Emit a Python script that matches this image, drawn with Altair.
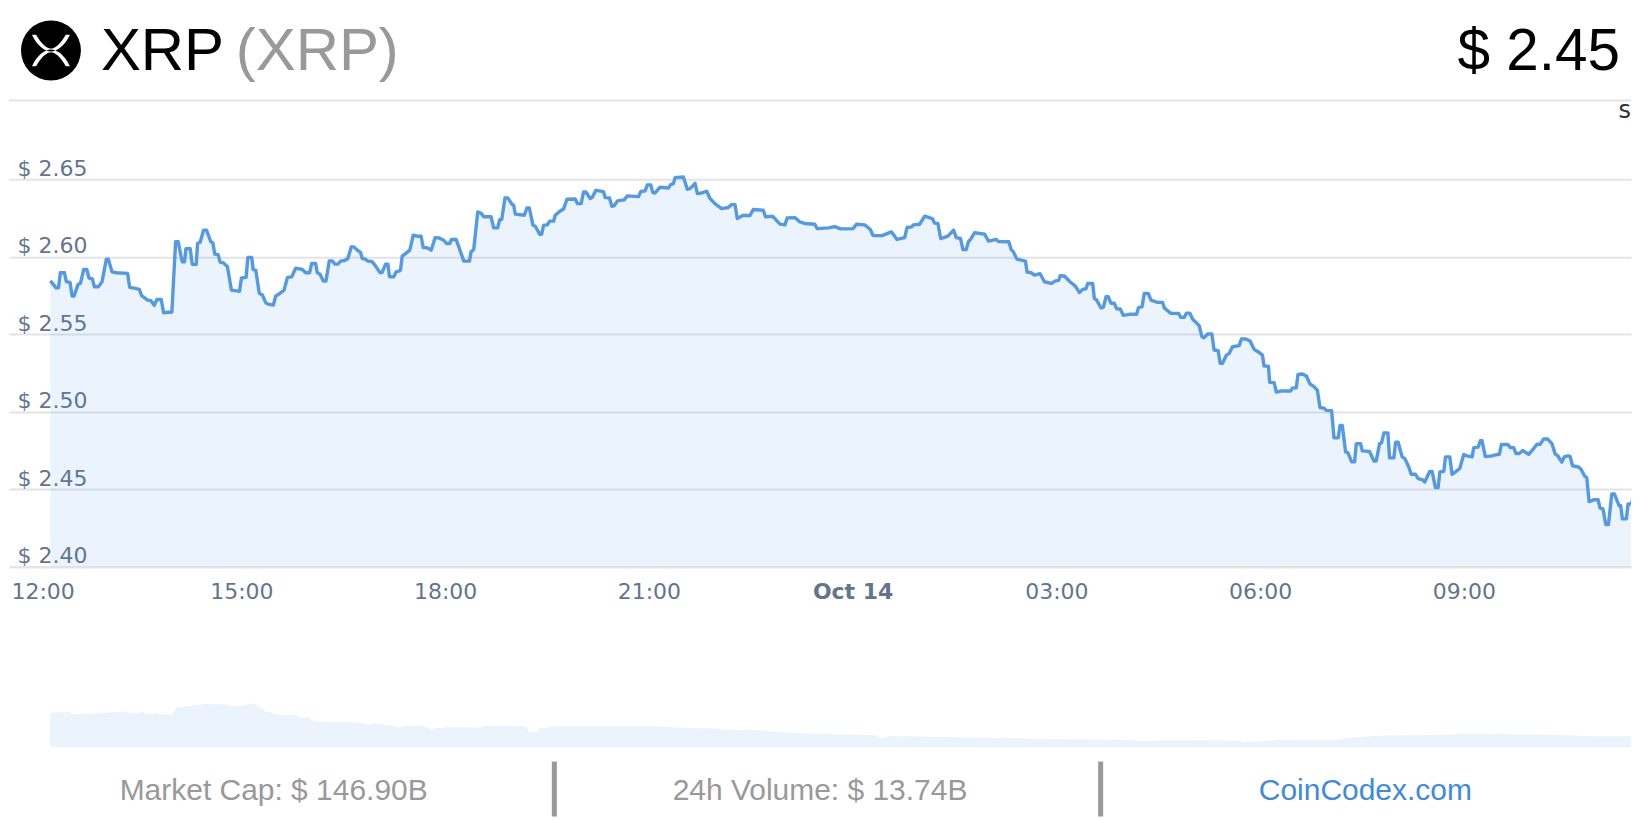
import altair as alt
import pandas as pd

# minutes after 12:00 on Oct 13
price_minutes = [
    12.6, 17.6, 19.7, 21.4, 25.0, 26.7, 30.0, 31.7, 33.5, 37.0, 39.1, 42.0, 44.7, 46.7, 49.7, 51.4, 55.0, 58.2, 62.0, 63.8,
    67.0, 70.5, 80.8, 82.6, 86.7, 91.1, 93.2, 98.5, 101.4, 104.3, 106.7, 110.5, 112.6, 119.9, 123.2, 125.5, 129.0, 131.1, 132.3, 136.1,
    137.9, 141.4, 142.6, 144.9, 147.9, 150.5, 154.3, 156.1, 157.8, 160.8, 162.6, 165.5, 169.0, 172.5, 179.6, 181.4, 185.5, 187.0, 190.5, 191.7,
    194.0, 197.2, 199.9, 202.8, 205.8, 209.6, 211.6, 214.6, 219.0, 222.0, 225.8, 229.3, 235.2, 238.1, 241.6, 243.4, 246.9, 248.4, 250.8, 253.7,
    256.0, 259.0, 261.6, 264.0, 266.6, 269.0, 272.5, 275.4, 278.4, 280.7, 283.7, 286.6, 288.1, 291.0, 292.5, 296.9, 299.9, 303.7, 305.7, 308.7,
    310.7, 312.2, 316.0, 318.1, 320.4, 321.9, 323.4, 326.3, 330.1, 333.1, 336.6, 340.1, 341.9, 345.4, 349.0, 352.5, 355.7, 360.1, 362.5, 365.4,
    366.9, 371.0, 373.4, 377.8, 382.8, 384.2, 386.6, 390.1, 393.3, 395.4, 401.9, 404.2, 407.7, 409.5, 411.3, 414.2, 416.6, 420.4, 421.9, 423.3,
    431.3, 433.6, 435.7, 438.9, 441.0, 444.8, 446.6, 448.3, 451.6, 453.6, 457.1, 458.6, 463.0, 466.0, 468.9, 476.3, 478.3, 481.5, 483.6, 485.7,
    489.5, 491.5, 494.5, 501.2, 502.7, 506.5, 508.6, 510.6, 513.6, 519.5, 522.4, 532.1, 534.2, 538.0, 540.0, 543.0, 544.8, 546.8, 551.2, 558.6,
    560.6, 563.0, 564.5, 571.8, 575.3, 577.7, 582.1, 584.2, 588.0, 592.4, 595.3, 599.7, 605.6, 611.5, 614.4, 617.4, 619.4, 624.7, 630.6, 633.5,
    642.4, 644.4, 650.6, 657.1, 661.5, 663.5, 670.3, 674.7, 679.1, 687.9, 690.0, 700.0, 705.6, 710.6, 721.7, 724.7, 732.0, 737.0, 739.4, 747.3,
    755.6, 760.5, 767.3, 769.4, 773.2, 775.2, 780.5, 785.0, 791.7, 793.8, 796.7, 799.1, 805.5, 810.5, 812.9, 816.7, 818.8, 821.7, 823.8, 825.5,
    829.0, 837.9, 841.4, 848.2, 850.2, 859.3, 861.4, 863.4, 866.4, 874.0, 875.5, 879.0, 882.0, 887.0, 890.8, 896.7, 900.5, 903.4, 904.6, 908.4,
    913.4, 918.1, 921.7, 924.6, 927.5, 929.0, 933.4, 934.9, 936.9, 940.8, 942.8, 945.2, 947.2, 949.6, 952.5, 954.6, 957.8, 960.5, 965.8, 972.2,
    974.0, 977.0, 979.0, 982.5, 984.9, 990.8, 995.2, 996.7, 1002.5, 1009.3, 1011.3, 1014.3, 1016.3, 1019.3, 1021.6, 1027.5, 1029.9, 1031.9, 1034.9, 1038.7,
    1040.7, 1044.3, 1046.0, 1048.1, 1051.6, 1054.0, 1056.9, 1062.8, 1064.8, 1068.7, 1072.5, 1076.0, 1079.5, 1083.4, 1084.8, 1088.7, 1089.8, 1093.7, 1095.7, 1099.5,
    1108.4, 1109.8, 1113.3, 1114.8, 1118.6, 1122.2, 1125.4, 1128.3, 1131.9, 1134.2, 1137.8, 1139.8, 1144.5, 1146.6, 1150.4, 1151.9, 1153.9, 1156.9, 1158.9, 1162.2,
    1164.8, 1166.3, 1170.1, 1171.6, 1178.0, 1181.9, 1183.9, 1186.9, 1188.6, 1190.7, 1194.2, 1195.7, 1199.5, 1201.0, 1203.3, 1206.8, 1209.2, 1212.7, 1214.8, 1218.6,
    1221.0, 1224.5, 1226.8, 1231.2, 1233.3, 1236.2, 1238.6, 1240.1, 1243.6, 1245.1, 1248.9, 1250.9, 1253.9, 1257.7, 1261.2, 1264.2, 1268.6, 1270.1, 1273.9, 1275.9,
    1277.4, 1280.3, 1286.2, 1289.2, 1292.7, 1294.5, 1300.3, 1302.4, 1305.3, 1307.4, 1310.3, 1313.3, 1318.6, 1323.0, 1325.9, 1328.9, 1331.8, 1335.3, 1339.1, 1342.1,
    1344.1, 1347.9, 1350.0, 1353.3, 1355.2, 1357.3, 1362.6, 1364.7, 1368.2, 1369.9, 1372.0, 1376.4, 1379.9, 1381.7, 1384.3, 1386.7, 1389.1, 1392.0, 1394.3, 1398.5,
    1399.9, 1401.4, 1404.9, 1406.4, 1409.6, 1411.7, 1414.6, 1416.2,
]
prices = [
    2.5845, 2.580, 2.580, 2.5897, 2.5897, 2.5839, 2.5835, 2.5747, 2.5747, 2.5822, 2.5828, 2.5918, 2.5918, 2.5863, 2.5858, 2.5807, 2.5807, 2.5839, 2.5985, 2.5985,
    2.5903, 2.5897, 2.5893, 2.5803, 2.5798, 2.579, 2.5749, 2.5721, 2.5717, 2.5687, 2.5725, 2.5725, 2.5639, 2.5644, 2.6097, 2.6097, 2.5968, 2.5968, 2.6052, 2.6052,
    2.5951, 2.5951, 2.6086, 2.6094, 2.6172, 2.6172, 2.6097, 2.609, 2.6017, 2.6013, 2.5964, 2.5961, 2.5936, 2.5785, 2.5777, 2.5863, 2.5867, 2.5996, 2.5996, 2.5918,
    2.5914, 2.5764, 2.5753, 2.5704, 2.5693, 2.5689, 2.5747, 2.576, 2.5785, 2.5867, 2.5871, 2.5927, 2.5918, 2.5897, 2.5897, 2.5957, 2.5957, 2.5897, 2.5888, 2.5843,
    2.5843, 2.5974, 2.5974, 2.5953, 2.5953, 2.5972, 2.5976, 2.5989, 2.6064, 2.6064, 2.6043, 2.6028, 2.5989, 2.5985, 2.5974, 2.5968, 2.594, 2.5899, 2.5899, 2.5953,
    2.5953, 2.5871, 2.5871, 2.5903, 2.5908, 2.5914, 2.6004, 2.6021, 2.6043, 2.6139, 2.6133, 2.6133, 2.606, 2.6058, 2.6043, 2.6124, 2.6122, 2.6107, 2.6086, 2.6086,
    2.6112, 2.6112, 2.6064, 2.5972, 2.5972, 2.6032, 2.6047, 2.629, 2.6279, 2.6258, 2.6258, 2.6187, 2.6187, 2.624, 2.624, 2.638, 2.638, 2.6339, 2.6333, 2.6275,
    2.6268, 2.6315, 2.6315, 2.6204, 2.6197, 2.6146, 2.6146, 2.6204, 2.6206, 2.623, 2.623, 2.6268, 2.6296, 2.6309, 2.6371, 2.6373, 2.6343, 2.6343, 2.6418, 2.6418,
    2.6376, 2.6386, 2.6429, 2.6421, 2.6382, 2.638, 2.6326, 2.633, 2.6361, 2.6367, 2.6393, 2.6388, 2.6421, 2.6425, 2.6464, 2.6464, 2.6414, 2.6412, 2.6449, 2.6444,
    2.6466, 2.6472, 2.6511, 2.6515, 2.6436, 2.644, 2.6474, 2.6408, 2.6412, 2.6423, 2.6376, 2.6343, 2.6311, 2.6318, 2.6337, 2.6337, 2.6247, 2.6268, 2.6266, 2.6305,
    2.63, 2.6258, 2.6262, 2.6211, 2.6206, 2.6251, 2.6253, 2.6225, 2.6215, 2.621, 2.6182, 2.6187, 2.6195, 2.618, 2.6182, 2.621, 2.6206, 2.6176, 2.6137, 2.6137,
    2.6161, 2.6112, 2.6124, 2.6189, 2.6193, 2.6206, 2.621, 2.6262, 2.6247, 2.6217, 2.6215, 2.6118, 2.6133, 2.6172, 2.6124, 2.6118, 2.6047, 2.6047, 2.6101, 2.6112,
    2.6155, 2.6146, 2.6101, 2.6112, 2.6099, 2.6097, 2.6047, 2.6032, 2.5985, 2.5972, 2.5901, 2.5897, 2.5882, 2.5891, 2.5839, 2.5828, 2.5845, 2.5848, 2.5878, 2.5876,
    2.5839, 2.5811, 2.577, 2.579, 2.5794, 2.5828, 2.5828, 2.573, 2.5721, 2.567, 2.5674, 2.5742, 2.5742, 2.57, 2.57, 2.5665, 2.5663, 2.5622, 2.5629, 2.5629,
    2.5674, 2.5678, 2.5764, 2.5764, 2.5721, 2.5706, 2.5706, 2.567, 2.5635, 2.5635, 2.5609, 2.5609, 2.5637, 2.5637, 2.5599, 2.5556, 2.5485, 2.5478, 2.5502, 2.5502,
    2.5399, 2.5394, 2.5313, 2.5313, 2.5366, 2.5377, 2.542, 2.5427, 2.547, 2.547, 2.5457, 2.5403, 2.5388, 2.5366, 2.5295, 2.5295, 2.519, 2.5188, 2.5127, 2.5134,
    2.5134, 2.5153, 2.5155, 2.5241, 2.5244, 2.5231, 2.5179, 2.5166, 2.514, 2.5028, 2.5024, 2.5009, 2.5007, 2.4832, 2.4832, 2.4912, 2.4912, 2.4741, 2.4737, 2.4677,
    2.4677, 2.4795, 2.4795, 2.4748, 2.4744, 2.4683, 2.4683, 2.4795, 2.48, 2.4864, 2.4864, 2.4703, 2.4703, 2.4804, 2.4804, 2.4709, 2.4698, 2.4644, 2.4597, 2.4597,
    2.4569, 2.4563, 2.4547, 2.4616, 2.4616, 2.4511, 2.4511, 2.4612, 2.4616, 2.4709, 2.4709, 2.4597, 2.4612, 2.4634, 2.4724, 2.4716, 2.4709, 2.4769, 2.4772, 2.4813,
    2.4813, 2.4711, 2.4716, 2.4722, 2.4726, 2.4789, 2.4789, 2.4769, 2.4769, 2.4731, 2.4731, 2.475, 2.4726, 2.4763, 2.4791, 2.4791, 2.4825, 2.4825, 2.4795, 2.4726,
    2.4718, 2.4675, 2.4709, 2.4716, 2.4712, 2.4652, 2.4644, 2.4631, 2.4584, 2.4577, 2.4421, 2.4433, 2.4433, 2.4378, 2.4373, 2.4273, 2.4273, 2.447, 2.447, 2.4395,
    2.4395, 2.4309, 2.4309, 2.4406, 2.4406, 2.4491, 2.4524, 2.4545,
]

# the small navigator strip under the chart
strip_minutes = [
    12.3, 20.9, 29.9, 32.1, 38.9, 43.4, 59.1, 65.9, 79.4, 82.6, 90.6, 93.8, 98.8, 105.1, 108.7, 119.9, 123.5, 133.4, 149.2, 169.4,
    172.6, 183.0, 187.5, 192.9, 198.7, 201.9, 207.7, 215.8, 222.1, 230.2, 234.7, 241.5, 243.7, 250.5, 279.7, 291.0, 293.2, 300.0, 315.8, 320.3,
    324.8, 327.0, 340.5, 346.4, 349.5, 353.1, 360.8, 362.1, 392.3, 395.4, 417.0, 432.8, 435.1, 441.8, 444.5, 450.8, 456.2, 540.9, 572.4, 599.4,
    608.4, 639.9, 653.4, 675.0, 702.0, 742.5, 744.8, 747.9, 753.8, 810.1, 873.1, 877.6, 963.1, 978.9, 994.6, 1062.2, 1066.7, 1075.7, 1084.7, 1098.2,
    1147.7, 1165.7, 1192.7, 1237.8, 1269.3, 1327.8, 1380.9, 1416.2,
]
strip_values = [
    40.5, 41.2, 41.2, 38.9, 38.9, 39.7, 39.7, 41.6, 42.0, 40.1, 40.1, 42.4, 38.9, 40.8, 38.9, 38.5, 46.3, 48.6, 51.0, 50.2,
    48.2, 48.6, 51.3, 51.3, 46.7, 42.4, 40.8, 37.7, 38.5, 37.7, 34.6, 35.4, 31.5, 30.0, 29.6, 28.0, 26.8, 28.4, 24.9, 23.7,
    24.1, 25.3, 25.7, 23.0, 20.2, 23.3, 23.0, 24.1, 23.3, 25.3, 25.7, 24.5, 17.9, 17.9, 22.6, 23.0, 24.5, 24.9, 23.3, 22.2,
    21.0, 20.2, 18.3, 16.7, 15.6, 14.4, 11.3, 10.9, 13.6, 12.1, 10.9, 10.1, 9.3, 7.4, 8.6, 8.2, 5.8, 7.0, 7.4, 9.3,
    8.9, 12.1, 14.0, 14.8, 16.3, 15.2, 13.2, 13.2,
]

x_ticks = ["2025-10-13T12:00:00", "2025-10-13T15:00:00", "2025-10-13T18:00:00", "2025-10-13T21:00:00",
           "2025-10-14T00:00:00", "2025-10-14T03:00:00", "2025-10-14T06:00:00", "2025-10-14T09:00:00"]
y_ticks = [2.40, 2.45, 2.50, 2.55, 2.60, 2.65]
x_domain = ["2025-10-13T11:36:00", "2025-10-14T11:29:00"]

LINE = "#5499e4"
FILL = "#3d85e0"
AXIS_TEXT = "#64748f"
GRID = "#e4e4e6"
GREY = "#999999"

start = pd.Timestamp("2025-10-13T12:00:00")
df = pd.DataFrame({"time": start + pd.to_timedelta(price_minutes, unit="m"), "price": prices})
df["floor"] = y_ticks[0]
strip = pd.DataFrame({"time": start + pd.to_timedelta(strip_minutes, unit="m"), "value": strip_values})


def label(text, x, y, size, color, align="left", font="Liberation Sans"):
    return alt.Chart(pd.DataFrame({"label": [text]})).mark_text(
        align=align, baseline="alphabetic", font=font, fontSize=size, color=color
    ).encode(x=alt.value(x), y=alt.value(y), text="label:N")


def spot():
    return alt.Chart(pd.DataFrame({"n": [1]}))


x_main = alt.X("time:T", title=None, scale=alt.Scale(domain=x_domain), axis=alt.Axis(
    values=x_ticks,
    labelExpr="hours(datum.value) == 0 ? 'Oct 14' : timeFormat(datum.value, '%H:%M')",
    labelFontWeight={"condition": {"test": "hours(datum.value) == 0", "value": "bold"}, "value": "normal"},
    labelOffset={"condition": {"test": "hours(datum.value) == 12", "value": 6.5}, "value": 1.5},
    labelFont="DejaVu Sans", labelFontSize=22, labelColor=AXIS_TEXT, labelPadding=15, labelAngle=0,
    labelBound=False, labelFlush=False, labelOverlap=False,
    ticks=False, grid=False, domainColor=GRID, domainWidth=2,
))
y_main = alt.Y("price:Q", title=None, scale=alt.Scale(domain=[2.40, 2.7602], nice=False, zero=False), axis=alt.Axis(
    values=y_ticks,
    labelExpr="'$ ' + format(datum.value, '.2f')",
    labelFont="DejaVu Sans", labelFontSize=22, labelColor=AXIS_TEXT,
    labelAlign="left", labelBaseline="alphabetic", labelPadding=-8, labelOffset=-4,
    labelBound=False, labelFlush=False, labelOverlap=False,
    ticks=False, domain=False, grid=True, gridColor=GRID, gridWidth=2,
))

area = alt.Chart(df).mark_area(color=FILL, opacity=0.1, clip=True).encode(x=x_main, y=y_main, y2="floor:Q")
line = alt.Chart(df).mark_line(color=LINE, strokeWidth=3.4, strokeJoin="round", clip=True).encode(x=x_main, y=y_main)

header_rule = spot().mark_rule(color=GRID, strokeWidth=2).encode(
    x=alt.value(0), x2=alt.value(1624), y=alt.value(92)
)
logo = spot().mark_point(filled=True, shape="circle", size=3600, color="#000000", opacity=1).encode(
    x=alt.value(42), y=alt.value(42)
)
# the two curved strokes of the XRP mark
glyph = spot().mark_point(
    filled=True, color="#ffffff", opacity=1, size=1444,
    shape=("M-1,-.83 L-.78,-.83 C-.5,-.33 -.2,-.1 0,-.1 C.2,-.1 .5,-.33 .78,-.83 L1,-.83 C.7,-.2 .3,.05 0,.05 C-.3,.05 -.7,-.2 -1,-.83 Z "
           "M-1,.83 L-.78,.83 C-.5,.33 -.2,.1 0,.1 C.2,.1 .5,.33 .78,.83 L1,.83 C.7,.2 .3,-.05 0,-.05 C-.3,-.05 -.7,.2 -1,.83 Z"),
).encode(x=alt.value(42), y=alt.value(42))

main = alt.layer(
    area, line, header_rule, logo, glyph,
    label("XRP", 92, 62, 60, "#000000"),
    label("(XRP)", 227, 62, 60, GREY),
    label("$ 2.45", 1613, 62, 58.5, "#000000", align="right"),
    label("s", 1624, 110, 24, "#333333", align="right", font="DejaVu Sans"),
).properties(width=1624, height=559)

x_strip = alt.X("time:T", title=None, scale=alt.Scale(domain=x_domain), axis=None)
y_strip = alt.Y("value:Q", title=None, scale=alt.Scale(domain=[0, 56], nice=False), axis=None)
strip_area = alt.Chart(strip).mark_area(color=FILL, opacity=0.1, clip=True).encode(x=x_strip, y=y_strip)


def divider(x):
    return spot().mark_rule(color=GREY, strokeWidth=5).encode(x=alt.value(x), y=alt.value(62), y2=alt.value(117))


lower = alt.layer(
    strip_area, divider(546), divider(1093),
    label("Market Cap: $ 146.90B", 265, 100, 30, GREY, align="center"),
    label("24h Volume: $ 13.74B", 812, 100, 30, GREY, align="center"),
    label("CoinCodex.com", 1358, 100, 30, "#3d8ae0", align="center"),
).properties(width=1624, height=48)

chart = alt.vconcat(main, lower, spacing=133, bounds="flush").properties(padding=0).configure_view(strokeWidth=0)
chart.save("out.html", embed_options={"renderer": "svg", "actions": False})
